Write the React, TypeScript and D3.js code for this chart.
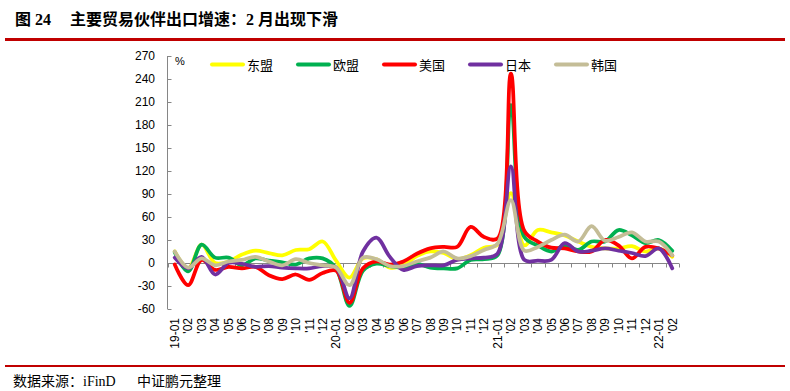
import React, { useEffect, useRef } from 'react';
import * as d3 from 'd3';

const months = [
  '19-01', "'02", "'03", "'04", "'05", "'06", "'07", "'08", "'09", "'10", "'11", "'12",
  '20-01', "'02", "'03", "'04", "'05", "'06", "'07", "'08", "'09", "'10", "'11", "'12",
  '21-01', "'02", "'03", "'04", "'05", "'06", "'07", "'08", "'09", "'10", "'11", "'12",
  '22-01', "'02",
];

const yTicks = [-60, -30, 0, 30, 60, 90, 120, 150, 180, 210, 240, 270];

// 东盟
const asean = [
  15, -7, 24, 0, 2, 11, 16, 13, 10, 17, 18, 28,
  3, -19, 6, 5, -6, -3, 9, 15, 13, 5, 10, 20,
  24, 91, 23, 43, 40, 36, 28, 21, 19, 19, 22, 15,
  19, 8,
];
// 欧盟
const eu = [
  14, -11, 24, 7, 7, -3, 6, 3, 1, -2, 6, 6,
  -7, -56, -10, -1, -4, -6, -1, -6, -7, -7, 4, 5,
  10, 206, 34, 23, 15, 23, 17, 28, 28, 43, 36, 26,
  30, 16,
];
// 美国
const us = [
  -2, -29, 4, -9, -5, -7, -5, -16, -21, -15, -22, -13,
  -10, -52, -7, 2, -2, 2, 12, 19, 21, 21, 47, 34,
  32, 247, 42, 28, 20, 19, 15, 15, 30, 23, 6, 21,
  19, 10,
];
// 日本
const japan = [
  7, -7, 8, -15, 0, -1, -5, -4, -6, -7, -7, -4,
  -6, -46, 15, 33, 8, -9, -4, -3, -3, 4, 6, 7,
  12, 126, 4, 3, 4, 26, 15, 16, 19, 16, 13, 9,
  19, -7,
];
// 韩国
const korea = [
  15, -6, 6, -3, 2, 4, 8, 2, -3, 5, 0, -3,
  -6, -29, 7, 5, -4, -4, 2, 7, 15, 6, 9, 17,
  25, 82, 16, 21, 30, 37, 28, 48, 29, 34, 40, 28,
  28, 10,
];

const seriesNames = ['东盟', '欧盟', '美国', '日本', '韩国'];
const seriesColors = ['#FFFF00', '#00B050', '#FF0000', '#7030A0', '#C4BD97'];
const seriesValues = [asean, eu, us, japan, korea];

const App: React.FC = () => {
  const svgRef = useRef<SVGSVGElement>(null);

  useEffect(() => {
    if (!svgRef.current) return;
    const svg = d3.select(svgRef.current);
    svg.selectAll('*').remove();

    const width = 790;
    const left = 168;
    const right = 679;
    const top = 56;
    const bottom = 309;
    const darkRed = '#C00000';
    const axisGray = '#868686';
    const cjk = "'Noto Sans CJK SC', sans-serif";
    const arial = "'Liberation Sans', Arial, sans-serif";

    svg.append('rect').attr('width', width).attr('height', 391).attr('fill', '#fff');

    // Title
    svg.append('text')
      .attr('x', 15).attr('y', 25)
      .attr('font-family', "'Liberation Serif', 'Noto Sans CJK SC', serif")
      .attr('font-weight', 'bold').attr('font-size', '16px')
      .text('图 24');
    svg.append('text')
      .attr('x', 70).attr('y', 25)
      .attr('font-family', "'Liberation Serif', 'Noto Sans CJK SC', serif")
      .attr('font-weight', 'bold').attr('font-size', '16px')
      .text('主要贸易伙伴出口增速：2 月出现下滑');

    svg.append('rect').attr('x', 5).attr('y', 38).attr('width', 780).attr('height', 3).attr('fill', darkRed);
    svg.append('rect').attr('x', 5).attr('y', 365).attr('width', 780).attr('height', 2).attr('fill', darkRed);

    // Source
    const src = svg.append('text')
      .attr('x', 13).attr('y', 386)
      .attr('font-size', '14px')
      .attr('font-family', cjk);
    src.append('tspan').text('数据来源：');
    src.append('tspan').attr('font-family', "'Liberation Serif', serif").text('iFinD');
    src.append('tspan').attr('x', 137).text('中证鹏元整理');

    // Scales
    const xScale = d3.scaleBand<string>()
      .domain(months.map((_, i) => String(i)))
      .range([left, right])
      .padding(0);
    const xCenter = (i: number) => (xScale(String(i)) || 0) + xScale.bandwidth() / 2;

    const yScale = d3.scaleLinear().domain([-60, 270]).range([bottom, top]);

    // Y axis
    const yAxisG = svg.append('g')
      .attr('transform', `translate(${left - 0.5},0)`)
      .call(d3.axisRight(yScale).tickValues(yTicks).tickSize(4).tickFormat(() => ''));
    yAxisG.select('.domain').attr('stroke', axisGray).attr('d', `M0,${top}V${bottom}`);
    yAxisG.selectAll('line').attr('stroke', axisGray);

    svg.append('g')
      .selectAll('text')
      .data(yTicks)
      .enter()
      .append('text')
      .attr('x', 155)
      .attr('y', d => yScale(d))
      .attr('dy', '0.36em')
      .attr('text-anchor', 'end')
      .attr('font-family', arial)
      .attr('font-size', '12px')
      .text(d => String(d));

    svg.append('text')
      .attr('x', 175).attr('y', 65)
      .attr('font-family', arial).attr('font-size', '11px')
      .text('%');

    // X axis at zero
    const zeroY = Math.round(yScale(0)) + 0.5;
    const xAxisG = svg.append('g');
    xAxisG.append('line')
      .attr('x1', left).attr('x2', right)
      .attr('y1', zeroY).attr('y2', zeroY)
      .attr('stroke', axisGray).attr('stroke-width', 1);
    xAxisG.selectAll('.tick')
      .data(d3.range(months.length + 1))
      .enter()
      .append('line')
      .attr('x1', i => Math.round(left + i * xScale.bandwidth()) + 0.5)
      .attr('x2', i => Math.round(left + i * xScale.bandwidth()) + 0.5)
      .attr('y1', zeroY)
      .attr('y2', zeroY + 4)
      .attr('stroke', axisGray);

    svg.append('g')
      .selectAll('text')
      .data(months)
      .enter()
      .append('text')
      .attr('transform', (_, i) => `translate(${xCenter(i)},318) rotate(-90)`)
      .attr('dy', '0.36em')
      .attr('text-anchor', 'end')
      .attr('font-family', arial)
      .attr('font-size', '12px')
      .text(d => d);

    // Series
    const line = d3.line<number>()
      .x((_, i) => xCenter(i))
      .y(d => yScale(d))
      .curve(d3.curveCatmullRom.alpha(0.5));

    seriesValues.forEach((vals, k) => {
      svg.append('path')
        .datum(vals)
        .attr('d', line)
        .attr('fill', 'none')
        .attr('stroke', seriesColors[k])
        .attr('stroke-width', 3.75)
        .attr('stroke-linejoin', 'round')
        .attr('stroke-linecap', 'round');
    });

    // Legend
    const legend = svg.append('g');
    seriesNames.forEach((name, k) => {
      const lx = 212 + k * 86;
      legend.append('line')
        .attr('x1', lx).attr('x2', lx + 31)
        .attr('y1', 64.5).attr('y2', 64.5)
        .attr('stroke', seriesColors[k])
        .attr('stroke-width', 4)
        .attr('stroke-linecap', 'round');
      legend.append('text')
        .attr('x', lx + 35).attr('y', 70)
        .attr('font-family', cjk)
        .attr('font-size', '13px')
        .text(name);
    });
  }, []);

  return (
    <div style={{ position: 'absolute', left: 0, top: 0, width: 790, height: 391 }}>
      <svg ref={svgRef} width={790} height={391} style={{ display: 'block' }} />
    </div>
  );
};

export default App;
